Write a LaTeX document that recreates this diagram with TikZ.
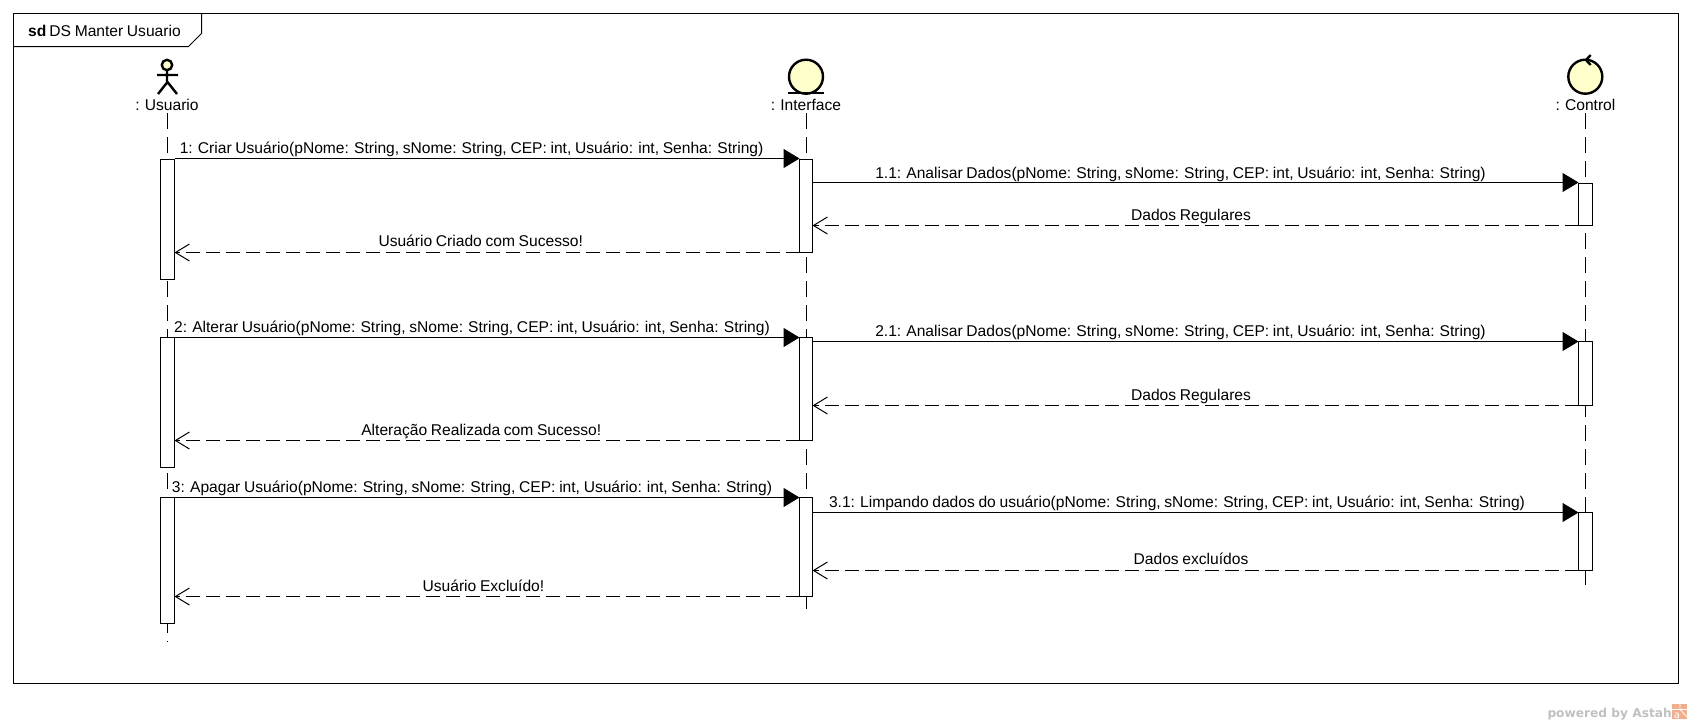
\documentclass[tikz,border=0pt]{standalone}
\usepackage{fontspec}
\setmainfont[WordSpace=0.85]{Liberation Sans}
\newfontfamily\wmfont{DejaVu Sans}
\usetikzlibrary{arrows.meta}
\definecolor{cream}{HTML}{FFFFCC}
\definecolor{mark}{HTML}{C0C0C0}
\definecolor{astah}{HTML}{F0AE8C}
\tikzset{
  x=1pt,y=-1pt,
  framel/.style={draw=black,line width=1pt},
  activation/.style={draw=black,fill=white,line width=1pt,minimum width=14pt,inner sep=0pt,outer sep=0pt,anchor=north},
  lifeline/.style={draw=black,line width=1pt,dash pattern=on 16pt off 8pt},
  call/.style={draw=black,line width=1pt,-{Triangle[length=16pt,width=19pt]}},
  reply/.style={draw=black,line width=1pt,dash pattern=on 13.4pt off 6.6pt,-{Straight Barb[length=14pt,width=17pt,line width=1pt]}},
  msg/.style={font=\fontsize{15.6}{18}\selectfont,anchor=base,inner sep=0pt,text=black},
  head/.style={font=\fontsize{15.6}{18}\selectfont,anchor=base,inner sep=0pt,text=black},
  icon/.style={draw=black,fill=cream,line width=2.4pt},
}
\begin{document}
\begin{tikzpicture}
\useasboundingbox (0,0) rectangle (1692,724);
% frame
\draw[framel] (13.5,13.5) rectangle (1678.5,683.5);
\draw[framel] (13.5,46.5) -- (188.5,46.5) -- (201.5,33.5) -- (201.5,13.5);
\node[msg,anchor=base west] (frametitle) at (28,36) {\textbf{sd}\hspace{3pt}DS Manter Usuario};
% heads
\node[head] (uLabel) at (167,110) {: Usuario};
\node[head] (iLabel) at (806,110) {: Interface};
\node[head] (cLabel) at (1585.5,110) {: Control};
% actor
\draw[icon,fill=none,line cap=butt] (167,70) -- (167,83) (157,75) -- (178,75) (158,94) -- (167.5,82) -- (177,94);
\draw[icon] (167,65) circle (5.2);
% boundary
\draw[icon] (806,76.7) circle (17);
\draw[icon] (788,92.7) -- (824,92.7);
% control
\draw[icon] (1585.3,76.7) circle (17);
\draw[icon,fill=none] (1590.7,55) -- (1586,60) -- (1590.7,65);
% lifelines
\draw[lifeline] (167.5,113) -- (167.5,642);
\draw[lifeline] (806.5,113) -- (806.5,609);
\draw[lifeline] (1585.5,113) -- (1585.5,585);
% activations
\node[activation,minimum height=120pt] (u1) at (167.5,159.5) {};
\node[activation,minimum height=130pt] (u2) at (167.5,337.5) {};
\node[activation,minimum height=126pt] (u3) at (167.5,497.5) {};
\node[activation,minimum width=13pt,minimum height=93pt] (i1) at (806,159.5) {};
\node[activation,minimum width=13pt,minimum height=103pt] (i2) at (806,337.5) {};
\node[activation,minimum width=13pt,minimum height=99pt] (i3) at (806,497.5) {};
\node[activation,minimum height=42pt] (c1) at (1585.5,183.5) {};
\node[activation,minimum height=64pt] (c2) at (1585.5,341.5) {};
\node[activation,minimum height=58pt] (c3) at (1585.5,512.5) {};
% messages
\draw[call] (u1.east |- 0,158.5) -- (i1.west |- 0,158.5);
\node[msg] (m1) at (471.6,153) {1: Criar Usuário(pNome: String, sNome: String, CEP: int, Usuário: int, Senha: String)};
\draw[call] (i1.east |- 0,182.5) -- (c1.west |- 0,182.5);
\node[msg] (m11) at (1180.5,178) {1.1: Analisar Dados(pNome: String, sNome: String, CEP: int, Usuário: int, Senha: String)};
\draw[reply] (c1.west |- 0,225.5) -- (i1.east |- 0,225.5);
\node[msg] (r11) at (1191,220) {Dados Regulares};
\draw[reply] (i1.west |- 0,252.5) -- (u1.east |- 0,252.5);
\node[msg] (r1) at (480.7,246) {Usuário Criado com Sucesso!};
\draw[call] (u2.east |- 0,337.5) -- (i2.west |- 0,337.5);
\node[msg] (m2) at (472,332.5) {2: Alterar Usuário(pNome: String, sNome: String, CEP: int, Usuário: int, Senha: String)};
\draw[call] (i2.east |- 0,341.5) -- (c2.west |- 0,341.5);
\node[msg] (m21) at (1180.5,336) {2.1: Analisar Dados(pNome: String, sNome: String, CEP: int, Usuário: int, Senha: String)};
\draw[reply] (c2.west |- 0,405.5) -- (i2.east |- 0,405.5);
\node[msg] (r21) at (1191,400) {Dados Regulares};
\draw[reply] (i2.west |- 0,440.5) -- (u2.east |- 0,440.5);
\node[msg] (r2) at (481.3,435) {Alteração Realizada com Sucesso!};
\draw[call] (u3.east |- 0,497.5) -- (i3.west |- 0,497.5);
\node[msg] (m3) at (472,492) {3: Apagar Usuário(pNome: String, sNome: String, CEP: int, Usuário: int, Senha: String)};
\draw[call] (i3.east |- 0,512.5) -- (c3.west |- 0,512.5);
\node[msg] (m31) at (1177,507) {3.1: Limpando dados do usuário(pNome: String, sNome: String, CEP: int, Usuário: int, Senha: String)};
\draw[reply] (c3.west |- 0,570.5) -- (i3.east |- 0,570.5);
\node[msg] (r31) at (1191,564.5) {Dados excluídos};
\draw[reply] (i3.west |- 0,596.5) -- (u3.east |- 0,596.5);
\node[msg] (r3) at (483.4,591) {Usuário Excluído!};
% watermark
\node[anchor=base east,inner sep=0pt,text=mark,font=\wmfont\fontsize{12.2}{16}\selectfont\bfseries] (wm) at (1672,717) {powered by Astah};
\fill[astah] (1672,704) rectangle (1687,719);
\draw[white,line width=0.8pt] (1672,709.5) -- (1687,709.5) (1680,704) -- (1680,709.5) (1680,709.5) -- (1687,717);
\node[anchor=base,inner sep=0pt,text=white,font=\wmfont\fontsize{10}{12}\selectfont] (wmi) at (1677,718) {a};
\end{tikzpicture}
\end{document}
